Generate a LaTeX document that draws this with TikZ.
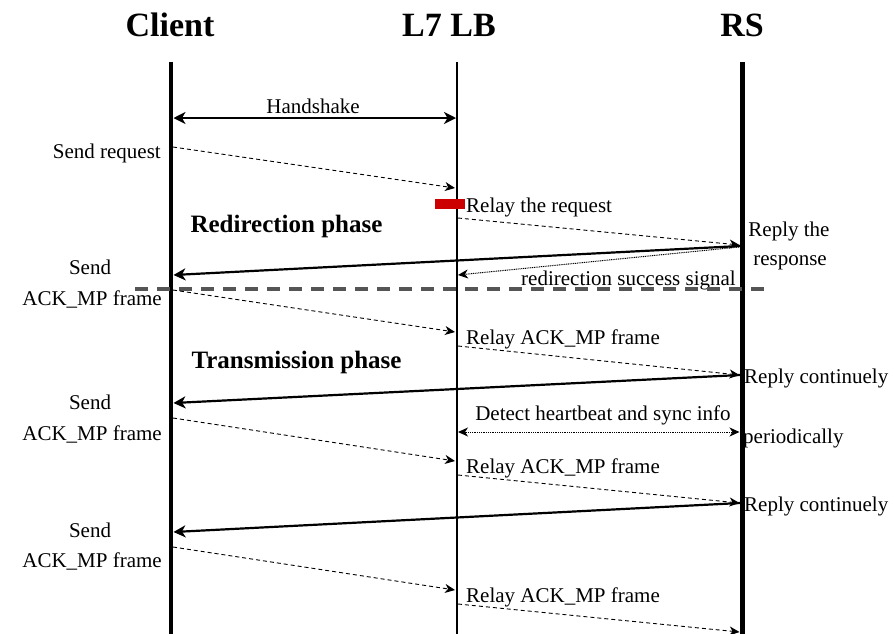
\documentclass[tikz,border=0pt]{standalone}
\usepackage{fontspec}
\setmainfont{Liberation Serif}
\usetikzlibrary{arrows.meta}
\definecolor{barred}{HTML}{CC0000}
\definecolor{sepgray}{HTML}{555555}
\tikzset{
  title/.style={font=\fontsize{34}{38}\selectfont\bfseries, anchor=base},
  phase/.style={font=\fontsize{25}{28}\selectfont\bfseries, anchor=mid west},
  lbl/.style={font=\fontsize{21}{24}\selectfont, inner sep=0pt},
  bigtip/.tip={Stealth[length=12pt,width=12pt,inset=3.5pt]},
  smalltip/.tip={Stealth[length=10pt,width=9pt,inset=3pt]},
  dasharrow/.style={-smalltip, line width=0.9pt, dash pattern=on 4pt off 3pt},
  dotarrow/.style={line width=1pt, dash pattern=on 1pt off 0.8pt},
  solidarrow/.style={-bigtip, line width=2.2pt},
  sepline/.style={sepgray, line width=3.5pt, dash pattern=on 13pt off 9pt},
  redbar/.style={fill=barred, draw=none, minimum width=30pt, minimum height=10pt, inner sep=0pt},
}
\begin{document}
\begin{tikzpicture}[x=1pt,y=-1pt]
\useasboundingbox (0,0) rectangle (894,633);
% titles
\node[title] (tc) at (170,36) {Client};
\node[title] (tl) at (449,36) {L7 LB};
\node[title] (tr) at (742,36) {RS};
% lifelines
\coordinate (ctop) at (171,62); \coordinate (cbot) at (171,640);
\coordinate (ltop) at (457,62); \coordinate (lbot) at (457,640);
\coordinate (rtop) at (742,62); \coordinate (rbot) at (742,640);
\draw[line width=4.2pt] (ctop) -- (cbot);
\draw[line width=1.8pt] (ltop) -- (lbot);
\draw[line width=5pt] (rtop) -- (rbot);
% handshake
\coordinate (h1) at (173.5,118); \coordinate (h2) at (456,118);
\draw[line width=2pt, bigtip-bigtip] (h1) -- (h2);
\node[lbl] (hs) at (313,106) {Handshake};
% send request
\coordinate (s1) at (173,147); \coordinate (s2) at (455,188);
\draw[dasharrow] (s1) -- (s2);
\node[lbl, anchor=mid east] (sr) at (161,156) {Send request};
% red bar
\node[redbar] (rb) at (450,203.5) {};
\node[lbl, anchor=mid west] (rl1) at (466,210) {Relay the request};
\node[phase] (ph1) at (187,230) {Redirection phase};
% relay to RS
\coordinate (r1) at (458,218); \coordinate (r2) at (739.5,245);
\draw[dasharrow] (r1) -- (r2);
\node[lbl, anchor=mid] (rp1) at (789,234) {Reply the};
\node[lbl, anchor=mid] (rp2) at (790,263) {response};
% response to client
\coordinate (a1) at (740,246); \coordinate (a2) at (173.5,275);
\draw[solidarrow] (a1) -- (a2);
% redirection success
\coordinate (d1) at (739,247); \coordinate (d2) at (458,275);
\draw[dotarrow, -smalltip] (d1) -- (d2);
\node[lbl, anchor=mid east] (rss) at (736,283) {redirection success signal};
% separator
\coordinate (sepL) at (135,289); \coordinate (sepR) at (767,289);
\draw[sepline] (sepL) -- (sepR);
% ack 1
\node[lbl] (sd1) at (90,267) {Send};
\node[lbl, anchor=mid east] (ack1) at (162,303) {ACK\_MP frame};
\coordinate (k1) at (173,290); \coordinate (k2) at (455,332);
\draw[dasharrow] (k1) -- (k2);
\node[lbl, anchor=mid west] (rl2) at (466,342) {Relay ACK\_MP frame};
\coordinate (m1) at (458,346); \coordinate (m2) at (739.5,375);
\draw[dasharrow] (m1) -- (m2);
\node[lbl, anchor=mid west] (rc1) at (744,381) {Reply continuely};
\node[phase] (ph2) at (188,366) {Transmission phase};
\coordinate (b1) at (740,375); \coordinate (b2) at (173.5,403);
\draw[solidarrow] (b1) -- (b2);
% ack 2
\node[lbl] (sd2) at (90,402) {Send};
\node[lbl, anchor=mid east] (ack2) at (162,438) {ACK\_MP frame};
\coordinate (k3) at (173,418); \coordinate (k4) at (455,461);
\draw[dasharrow] (k3) -- (k4);
% heartbeat
\coordinate (hb1) at (458,432); \coordinate (hb2) at (739.5,432);
\draw[dotarrow, smalltip-smalltip] (hb1) -- (hb2);
\node[lbl] (hbt) at (603,415) {Detect heartbeat and sync info};
\node[lbl, anchor=mid west] (per) at (743,441) {periodically};
\node[lbl, anchor=mid west] (rl3) at (466,471) {Relay ACK\_MP frame};
\coordinate (m3) at (458,475); \coordinate (m4) at (739.5,503);
\draw[dasharrow] (m3) -- (m4);
\node[lbl, anchor=mid west] (rc2) at (744,509) {Reply continuely};
\coordinate (b3) at (740,503); \coordinate (b4) at (173.5,532);
\draw[solidarrow] (b3) -- (b4);
% ack 3
\node[lbl] (sd3) at (90,530) {Send};
\node[lbl, anchor=mid east] (ack3) at (162,565) {ACK\_MP frame};
\coordinate (k5) at (173,547); \coordinate (k6) at (455,590);
\draw[dasharrow] (k5) -- (k6);
\node[lbl, anchor=mid west] (rl4) at (466,600) {Relay ACK\_MP frame};
\coordinate (m5) at (458,604); \coordinate (m6) at (739.5,632);
\draw[dasharrow] (m5) -- (m6);
\end{tikzpicture}
\end{document}
